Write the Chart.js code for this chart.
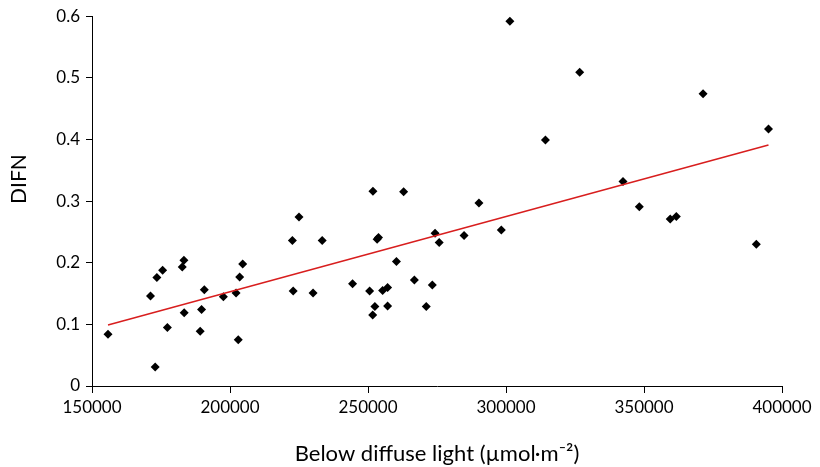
<!DOCTYPE html>
<html>
<head>
<meta charset="utf-8">
<script src="https://cdn.jsdelivr.net/npm/chart.js@4/dist/chart.umd.min.js"></script>
<style>
  html, body { margin: 0; padding: 0; background: #fff; }
  #wrap { width: 820px; height: 467px; }
</style>
</head>
<body>
<div id="wrap"><canvas id="difnChart" width="820" height="467"></canvas></div>
<script>
// below diffuse light (µmol·m-2) for each sample
const lightValues = [
  155800, 171200, 172900, 173500, 175600, 177300, 182700, 183300, 183400,
  189200, 189700, 190700, 197600, 202200, 203000, 203500, 204600, 222600,
  222900, 225000, 230100, 233400, 244400, 250600, 251800, 251700, 252500,
  253300, 253800, 255300, 257100, 257100, 260300, 262900, 266800, 271100,
  273300, 274300, 275800, 284800, 290200, 298300, 348300, 359500, 361700,
  390700, 301400, 326700, 314300, 371400, 395100, 342400
];
// DIFN for each sample
const difnValues = [
  0.084, 0.146, 0.031, 0.176, 0.188, 0.095, 0.193, 0.204, 0.119,
  0.089, 0.124, 0.156, 0.145, 0.151, 0.075, 0.177, 0.198, 0.236,
  0.154, 0.274, 0.151, 0.236, 0.166, 0.154, 0.316, 0.115, 0.129,
  0.238, 0.241, 0.155, 0.160, 0.130, 0.202, 0.315, 0.172, 0.129,
  0.164, 0.248, 0.233, 0.244, 0.297, 0.253, 0.291, 0.271, 0.275,
  0.230, 0.592, 0.509, 0.399, 0.474, 0.417, 0.332
];
// linear trend line ends
const trendX = [155800, 395100];
const trendY = [0.099, 0.391];

const xTicks = [150000, 200000, 250000, 300000, 350000, 400000];

const tickFont = { family: "Lato", size: 17 };
const axisColor = "#000";

// y axis title sits a bit above the middle in the original, so draw it by hand
const yTitlePlugin = {
  id: "yTitle",
  afterDraw(chart) {
    const ctx = chart.ctx;
    ctx.save();
    ctx.translate(19, 179);
    ctx.rotate(-Math.PI / 2);
    ctx.font = "21px Lato";
    ctx.fillStyle = "#000";
    ctx.textAlign = "center";
    ctx.textBaseline = "middle";
    ctx.fillText("DIFN", 0, 0);
    ctx.restore();
  },
};

new Chart(document.getElementById("difnChart"), {
  data: {
    datasets: [
      {
        type: "scatter",
        label: "DIFN",
        data: lightValues.map((x, i) => ({ x: x, y: difnValues[i] })),
        pointStyle: "rectRot",
        pointRadius: 4.5,
        pointBackgroundColor: "#000",
        pointBorderColor: "#000",
        pointBorderWidth: 0,
        order: 2,
      },
      {
        type: "line",
        label: "Trend",
        data: trendX.map((x, i) => ({ x: x, y: trendY[i] })),
        borderColor: "#d81e1e",
        borderWidth: 1.5,
        pointRadius: 0,
        fill: false,
        order: 1,
      },
    ],
  },
  plugins: [yTitlePlugin],
  options: {
    responsive: false,
    animation: false,
    layout: { padding: { left: 0, right: 38, top: 12, bottom: 0 } },
    plugins: { legend: { display: false }, tooltip: { enabled: false } },
    scales: {
      x: {
        type: "linear",
        min: 150000,
        max: 400000,
        afterBuildTicks: (scale) => {
          scale.ticks = xTicks.map((v) => ({ value: v }));
        },
        afterFit: (scale) => { scale.height = 81; },
        ticks: {
          color: "#000",
          font: tickFont,
          padding: 4,
          maxRotation: 0,
          callback: (v) => String(v),
        },
        grid: { drawOnChartArea: false, color: axisColor, tickLength: 7, lineWidth: 1 },
        border: { color: axisColor, width: 1 },
        title: {
          display: true,
          text: "Below diffuse light (µmol·m⁻²)",
          color: "#000",
          font: { family: "Lato", size: 22 },
          padding: { top: 6, bottom: 0 },
        },
      },
      y: {
        min: 0,
        max: 0.6,
        ticks: {
          stepSize: 0.1,
          color: "#000",
          font: tickFont,
          padding: 6,
          callback: (v) => String(+v.toFixed(1)),
        },
        afterFit: (scale) => { scale.width = 92; },
        grid: { drawOnChartArea: false, color: axisColor, tickLength: 6, lineWidth: 1 },
        border: { color: axisColor, width: 1 },
      },
    },
  },
});
</script>
</body>
</html>
